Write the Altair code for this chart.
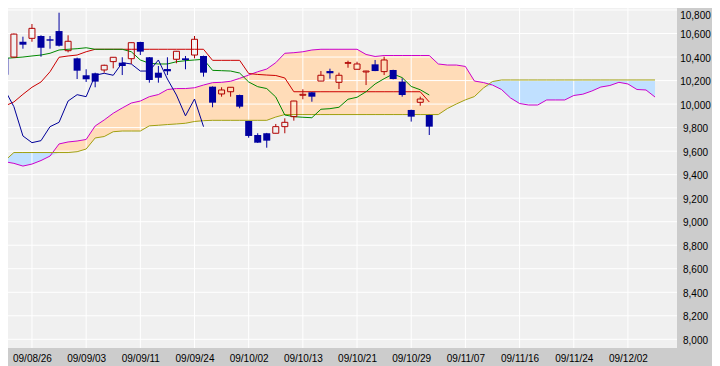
import altair as alt
import pandas as pd

# ---- candles (index 0 = 09/08/26, one step = one trading day) ----
candle_idx = list(range(-3, 45))
open_ = [10390, 10400, 10530, 10559, 10579, 10551, 10621, 10454, 10389, 10245,
         10262, 10290, 10361, 10352, 10386, 10528, 10398, 10267, 10298, 10381,
         10389, 10417, 10409, 10148, 10086, 10105, 10077, 9856, 9737, 9752,
         9752, 9808, 9893, 10075, 10100, 10196, 10281, 10185, 10347, 10296,
         10273, 10338, 10276, 10290, 10191, 9950, 10015, 9907]
high_ = [10400, 10600, 10573, 10681, 10585, 10579, 10777, 10585, 10395, 10296,
         10267, 10335, 10400, 10398, 10525, 10530, 10400, 10324, 10398, 10452,
         10409, 10579, 10412, 10150, 10143, 10145, 10080, 9858, 9752, 9755,
         9831, 9879, 10028, 10126, 10102, 10281, 10301, 10267, 10369, 10360,
         10283, 10375, 10403, 10292, 10219, 9952, 10063, 9910]
low_ = [10230, 10395, 10471, 10530, 10403, 10471, 10490, 10440, 10213, 10188,
        10143, 10267, 10304, 10247, 10341, 10417, 10182, 10182, 10247, 10347,
        10296, 10389, 10233, 9973, 10063, 10063, 9964, 9714, 9670, 9629,
        9750, 9752, 9859, 10041, 10020, 10195, 10216, 10128, 10309, 10295,
        10162, 10280, 10247, 10210, 10063, 9851, 9986, 9737]
close_ = [10250, 10595, 10505, 10644, 10479, 10539, 10496, 10534, 10284, 10211,
          10191, 10330, 10398, 10324, 10522, 10446, 10205, 10224, 10279, 10449,
          10375, 10551, 10267, 10012, 10120, 10143, 9978, 9729, 9672, 9689,
          9808, 9845, 10026, 10083, 10063, 10245, 10262, 10245, 10352, 10341,
          10281, 10281, 10375, 10213, 10077, 9893, 10043, 9808]

kijun = [9984, 10018, 10083, 10143, 10188, 10275, 10398, 10409, 10417, 10445,
         10466, 10466, 10466, 10466, 10466, 10466, 10466, 10466, 10466, 10466,
         10466, 10466, 10466, 10372, 10372, 10372, 10372, 10260, 10252, 10247,
         10243, 10222, 10105, 10105, 10105, 10105, 10105, 10105, 10105, 10105,
         10105, 10105, 10105, 10105, 10105, 10105, 10105, 10018]
tenkan = [10389, 10394, 10400, 10409, 10417, 10432, 10460, 10466, 10471, 10479,
          10466, 10466, 10466, 10466, 10445, 10375, 10347, 10341, 10341, 10360,
          10369, 10375, 10381, 10287, 10284, 10281, 10264, 10188, 10148, 10132,
          10060, 9907, 9893, 9888, 9884, 9956, 9961, 9973, 10041, 10058,
          10105, 10171, 10216, 10256, 10225, 10150, 10122, 10077]

# ---- lagging span (index -3 .. 19) ----
chikou_idx = list(range(-3, 20))
chikou = [10120, 9978, 9729, 9672, 9689, 9808, 9845, 10026, 10080, 10063,
          10245, 10262, 10245, 10352, 10341, 10281, 10281, 10375, 10213, 10077,
          9900, 10043, 9808]

# ---- leading spans (index -3 .. 69) ----
cloud_idx = list(range(-3, 70))
senkou_a = [9510, 9496, 9473, 9490, 9520, 9558, 9661, 9678, 9686, 9699,
            9814, 9865, 9922, 9967, 10009, 10026, 10063, 10081, 10124, 10132,
            10132, 10139, 10162, 10182, 10185, 10194, 10219, 10247, 10275, 10298,
            10352, 10432, 10437, 10445, 10460, 10466, 10466, 10466, 10466, 10466,
            10422, 10405, 10413, 10413, 10413, 10413, 10413, 10413, 10341, 10332,
            10332, 10320, 10196, 10183, 10162, 10124, 10052, 10005, 9992, 9992,
            10035, 10035, 10035, 10073, 10084, 10111, 10145, 10158, 10185, 10171,
            10124, 10120, 10060]
senkou_b = [9519, 9588, 9588, 9588, 9588, 9588, 9588, 9588, 9595, 9618,
            9712, 9724, 9765, 9771, 9771, 9771, 9815, 9820, 9826, 9831,
            9837, 9852, 9859, 9862, 9862, 9862, 9862, 9862, 9862, 9862,
            9890, 9911, 9911, 9911, 9911, 9911, 9911, 9911, 9911, 9911,
            9911, 9911, 9911, 9911, 9911, 9911, 9911, 9911, 9911, 9962,
            10001, 10036, 10064, 10137, 10192, 10205, 10205, 10205, 10205, 10205,
            10205, 10205, 10205, 10205, 10205, 10205, 10205, 10205, 10205, 10205,
            10205, 10205, 10205]

y_ticks = [8000, 8200, 8400, 8600, 8800, 9000, 9200, 9400, 9600, 9800,
           10000, 10200, 10400, 10600, 10800]
x_ticks = [0, 6, 12, 18, 24, 30, 36, 42, 48, 54, 60, 66]
x_labels = ["09/08/26", "09/09/03", "09/09/11", "09/09/24", "09/10/02", "09/10/13",
            "09/10/21", "09/10/29", "09/11/07", "09/11/16", "09/11/24", "09/12/02"]

candles = pd.DataFrame({"i": candle_idx, "open": open_, "high": high_,
                        "low": low_, "close": close_, "kijun": kijun, "tenkan": tenkan})
ups = candles[candles["close"] >= candles["open"]]
downs = candles[candles["close"] < candles["open"]]
chik = pd.DataFrame({"i": chikou_idx, "v": chikou})
cloud = pd.DataFrame({"i": cloud_idx, "a": senkou_a, "b": senkou_b})

xs = alt.Scale(domain=[-2.1, 70.88], nice=False, zero=False)
ys = alt.Scale(domain=[7926, 10817], nice=False, zero=False)

label_expr = "[" + ",".join("'%s'" % s for s in x_labels) + "][round(datum.value/6)]"
x_axis = alt.Axis(values=x_ticks, labelExpr=label_expr, title=None, ticks=False,
                  domain=False, grid=False, labelFont="Liberation Sans", labelFontSize=10,
                  labelColor="#000000", labelPadding=5, labelFlush=False, labelOverlap=False)
y_axis = alt.Axis(values=y_ticks, labelExpr="format(datum.value, ',.0f')", orient="right",
                  title=None, ticks=False,
                  domain=False, grid=False, labelFont="Liberation Sans", labelFontSize=10,
                  labelColor="#000000", labelAlign="center",
                  labelBaseline={"condition": {"test": "datum.value >= 10800", "value": "top"},
                                 "value": "middle"},
                  labelPadding=18, labelOffset=1, labelFlush=False, labelOverlap=False)

X = lambda f="i": alt.X(f + ":Q", scale=xs, axis=x_axis, title=None)
Y = lambda f: alt.Y(f + ":Q", scale=ys, axis=y_axis, title=None)

peach = alt.Chart(cloud).transform_calculate(lo="min(datum.a, datum.b)").mark_area(
    color="#ffdcb8", clip=True).encode(x=X(), y=Y("a"), y2="lo:Q")
bluef = alt.Chart(cloud).transform_calculate(lo="min(datum.a, datum.b)").mark_area(
    color="#c0e0ff", clip=True).encode(x=X(), y=Y("b"), y2="lo:Q")

hgrid = alt.Chart(pd.DataFrame({"v": y_ticks})).mark_rule(
    color="#ffffff", strokeWidth=1).encode(y=Y("v"))
vgrid = alt.Chart(pd.DataFrame({"v": x_ticks})).mark_rule(
    color="#ffffff", strokeWidth=1).encode(x=X("v"))

line_a = alt.Chart(cloud).mark_line(color="#cc00cc", strokeWidth=1, clip=True).encode(x=X(), y=Y("a"))
line_b = alt.Chart(cloud).mark_line(color="#a0a010", strokeWidth=1, clip=True).encode(x=X(), y=Y("b"))
line_k = alt.Chart(candles).mark_line(color="#cc0000", strokeWidth=1, clip=True).encode(x=X(), y=Y("kijun"))
line_t = alt.Chart(candles).mark_line(color="#008800", strokeWidth=1, clip=True).encode(x=X(), y=Y("tenkan"))
line_c = alt.Chart(chik).mark_line(color="#000099", strokeWidth=1, clip=True).encode(x=X(), y=Y("v"))

wick_dn = alt.Chart(downs).mark_rule(color="#0000a0", strokeWidth=1, clip=True).encode(
    x=X(), y=Y("low"), y2="high:Q")
wick_up_lo = alt.Chart(ups).mark_rule(color="#b00000", strokeWidth=1, clip=True).encode(
    x=X(), y=Y("low"), y2="open:Q")
wick_up_hi = alt.Chart(ups).mark_rule(color="#b00000", strokeWidth=1, clip=True).encode(
    x=X(), y=Y("close"), y2="high:Q")
body_dn = alt.Chart(downs).mark_bar(color="#0000a0", size=7, clip=True).encode(
    x=X(), y=Y("open"), y2="close:Q")
body_up = alt.Chart(ups).mark_bar(fillOpacity=0, stroke="#b00000", strokeWidth=1,
                                  size=6, clip=True).encode(
    x=X(), y=Y("open"), y2="close:Q")

chart = alt.layer(
    peach, bluef, hgrid, vgrid, line_a, line_b, line_k, line_t, line_c,
    wick_dn, wick_up_lo, wick_up_hi, body_dn, body_up
).properties(
    width=669, height=340,
    autosize=alt.AutoSizeParams(type="none"),
    padding={"left": 0, "top": 0, "right": 35, "bottom": 18},
    background="#cccccc",
).configure_view(fill="#f0f0f0", strokeWidth=0)

chart.save("out.html", embed_options={"renderer": "svg", "actions": False})
